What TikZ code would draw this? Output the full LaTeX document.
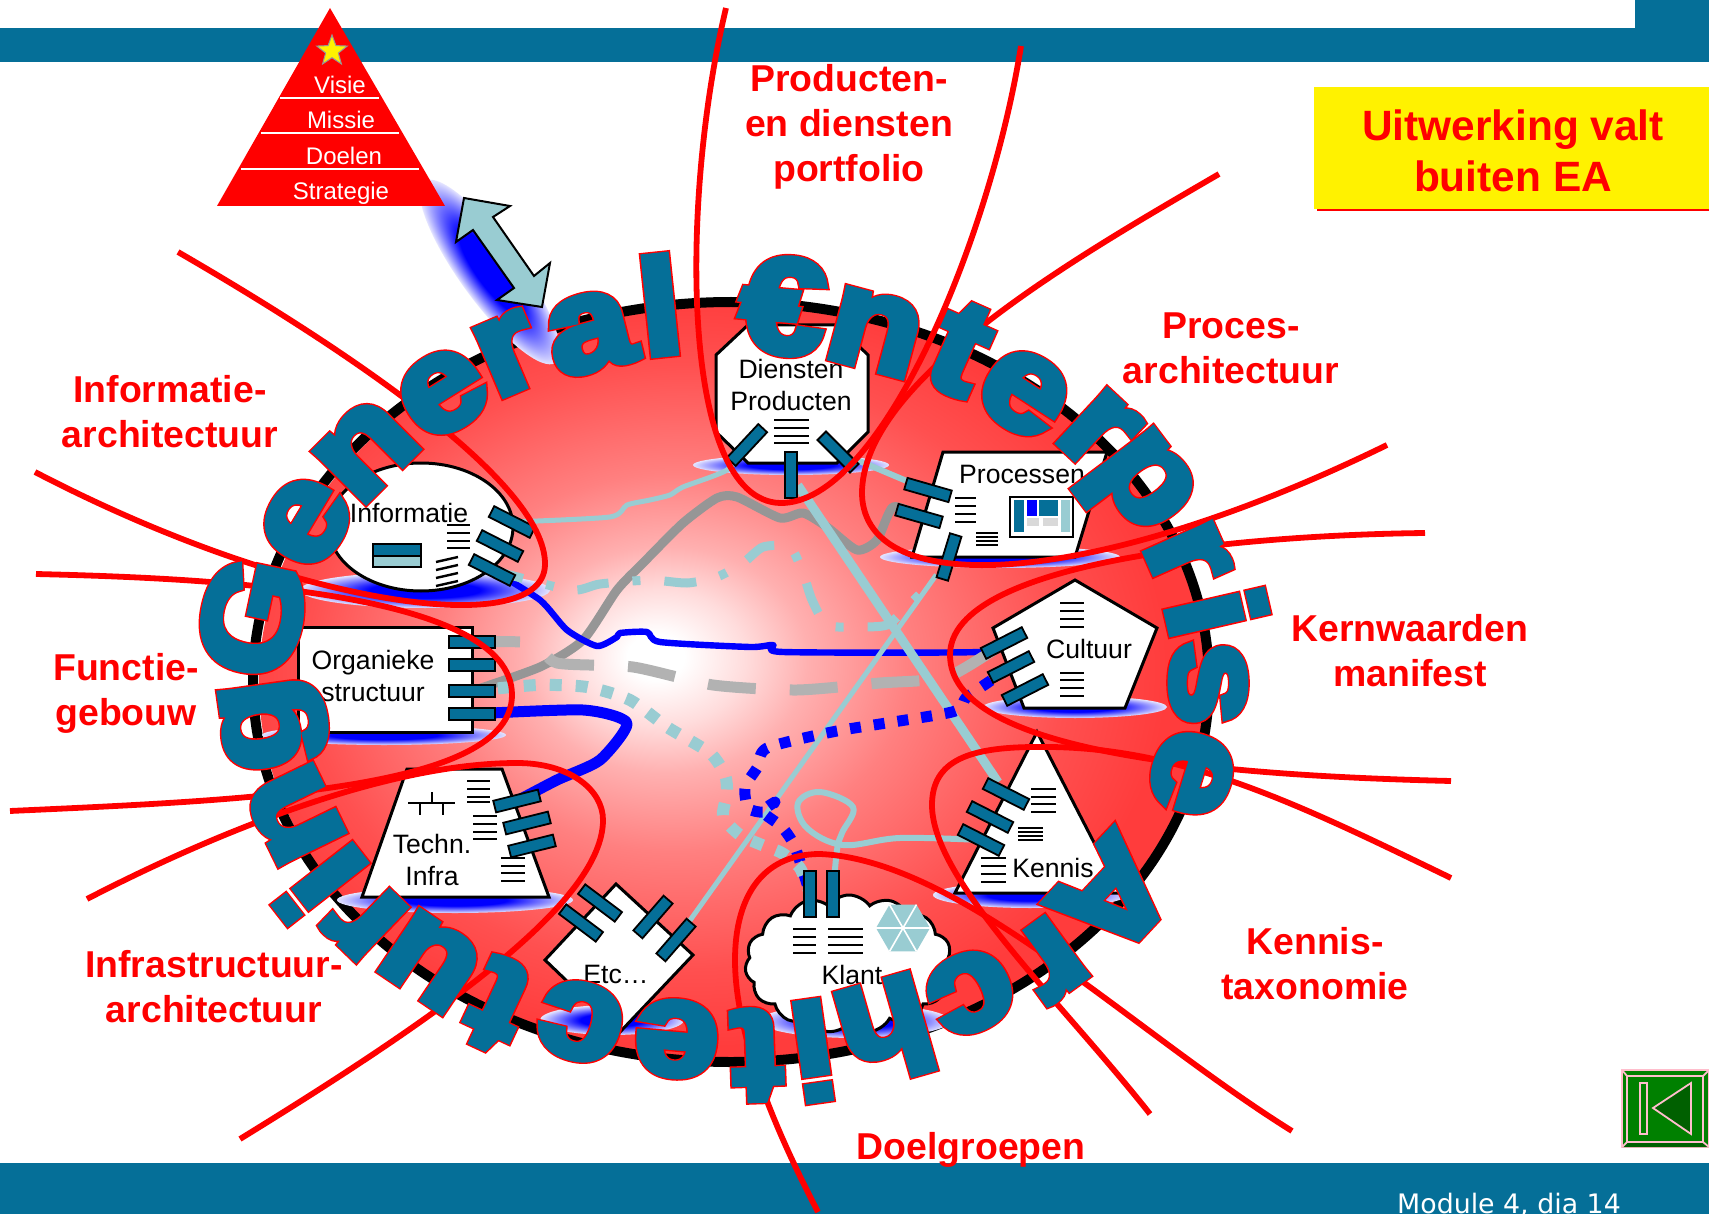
\documentclass[tikz,border=0pt]{standalone}
\usepackage{fontspec}
\setmainfont{Liberation Sans}
\newfontfamily\dejavu{DejaVu Sans}
\usetikzlibrary{shapes.geometric,shapes.symbols}
\definecolor{bandblue}{RGB}{5,111,152}
\definecolor{lightteal}{RGB}{153,204,210}
\definecolor{linegrey}{RGB}{150,150,150}
\definecolor{dashgrey}{RGB}{178,178,178}
\definecolor{btngreen}{RGB}{0,128,0}
\definecolor{btndark}{RGB}{0,96,0}
\definecolor{btnline}{RGB}{255,190,205}
\definecolor{rr1}{RGB}{255,220,220}
\definecolor{rr2}{RGB}{255,176,176}
\definecolor{rr3}{RGB}{255,128,128}
\definecolor{rr4}{RGB}{255,80,80}
\definecolor{rr5}{RGB}{255,60,60}
\definecolor{bb1}{RGB}{228,228,255}
\pgfdeclareradialshading{redglow}{\pgfpoint{-4.2bp}{1.8bp}}{color(0bp)=(white); color(1.5bp)=(white); color(4.5bp)=(rr1); color(7.5bp)=(rr2); color(12.5bp)=(rr3); color(20bp)=(rr4); color(25bp)=(rr5); color(50bp)=(rr5)}
\pgfdeclareradialshading{bluedisc}{\pgfpoint{0bp}{0bp}}{color(0bp)=(blue); color(11bp)=(blue); color(25bp)=(bb1); color(50bp)=(bb1)}
\pgfdeclarelayer{glows}
\pgfdeclarelayer{wires}
\pgfsetlayers{glows,wires,main}
% fat letters, red rim
\newcommand{\wordart}[1]{\scalebox{1.12}[1]{\rlap{\special{pdf:code 2 Tr 4.8 w 1 0 0 RG}#1}\special{pdf:code 2 Tr 3.4 w 0.02 0.435 0.596 RG}#1\special{pdf:code 0 Tr 1 w}}}

\begin{document}
\begin{tikzpicture}[
    x=0.5pt, y=-0.5pt,
    block/.style={draw=black, fill=white, line width=1.5pt},
    port/.style={rectangle, draw=black, fill=bandblue, line width=0.9pt, inner sep=0pt, minimum width=23pt, minimum height=6pt},
    bodytext/.style={font=\fontsize{13.3}{16.2}\selectfont, align=center, inner sep=0pt},
    pyrtext/.style={font=\fontsize{12}{14}\selectfont, text=white, inner sep=0pt},
    redtext/.style={font=\fontsize{18.7}{22.5}\selectfont\bfseries, text=red, align=center, inner sep=0pt},
    letter/.style={font=\fontsize{67.5}{70}\selectfont\bfseries, text=bandblue, inner sep=0pt},
    textline/.style={draw=black, line width=1.2pt},
    petal/.style={draw=red, line width=2.9pt},
    wire/.style={line width=#1, line join=round},
    wire/.default=2.5pt,
    btn/.style={draw=btnline, line width=0.9pt}
]

\useasboundingbox (0,0) rectangle (1709,1214);

% bands
\fill[bandblue] (0,28) rectangle (1709,62);
\fill[bandblue] (1635,0) rectangle (1709,28);
\fill[bandblue] (0,1163) rectangle (1709,1214);
\node[font=\dejavu\fontsize{13.4}{16}\selectfont, text=white, inner sep=0pt] (modulenr) at (1509,1205) {Module 4, dia 14};

% yellow box
\fill[yellow] (1314,87) rectangle (1709,209);
\draw[red, line width=1.2pt] (1317,210) -- (1709,210);
\node[font=\fontsize{21.2}{25.6}\selectfont\bfseries, text=red, align=center, inner sep=0pt] (uitwerking) at (1513,151) {Uitwerking valt\\buiten EA};

% disc and shadows
\begin{pgfonlayer}{glows}
\shade[shading=redglow] (733,683) ellipse [x radius=474, y radius=378];
\draw[black, line width=5pt] (731,682) ellipse [x radius=478, y radius=380];
\foreach \x/\y/\rx/\ry in {425/590/125/18, 384/735/122/10, 791/465/98/10, 1000/557/120/11, 1075/707/92/11, 1030/895/97/13, 455/900/118/13, 612/1020/72/15, 855/1021/95/17}
    \shade[shading=bluedisc] (\x,\y) ellipse [x radius=\rx, y radius=\ry];
\shade[shading=bluedisc, transform canvas={rotate around={-54:(490,272)}}] (490,272) ellipse [x radius=112, y radius=30];
\end{pgfonlayer}

% pyramid
\fill[red] (330,8) -- (445,206) -- (217,206) -- cycle;
\draw[white, line width=0.8pt] (280,98) -- (379,98);
\draw[white, line width=0.8pt] (261,133) -- (399,133);
\draw[white, line width=0.8pt] (241,169) -- (419,169);
\node[star, star points=5, star point ratio=2.4, draw=linegrey, fill=yellow, line width=0.5pt, minimum size=16pt, inner sep=0pt] (visiestar) at (332,51) {};
\node[pyrtext] (visie) at (340,85) {Visie};
\node[pyrtext] (missie) at (341,120) {Missie};
\node[pyrtext] (doelen) at (344,156) {Doelen};
\node[pyrtext] (strategie) at (341,193) {Strategie};

% double arrow
\draw[draw=black, fill=lightteal, line width=1pt] (464,198) -- (510,206) -- (493,217) -- (534,276) -- (550,263) -- (542,307) -- (497,300) -- (514,288) -- (473,230) -- (456,242) -- cycle;

% Informatie
\node[ellipse, block, minimum width=92pt, minimum height=64pt, inner sep=0pt] (informatie) at (421,527) {};
\node[bodytext] (informatietext) at (409,513) {Informatie};
\draw[draw=black, fill=bandblue, line width=1pt] (373,544) rectangle (421,556);
\draw[draw=black, fill=lightteal, line width=1pt] (373,556) rectangle (421,567);
\foreach \y in {525,533,541,548}
    \draw[textline] (447,\y) -- (470,\y);
\foreach \y in {562,570,578,586}
    \draw[textline] (436,\y) -- (458,\y-5);

% Organieke structuur
\node[rectangle, block, minimum width=87pt, minimum height=52.5pt, inner sep=0pt] (organiek) at (385,679.5) {};
\node[bodytext] (organiektext) at (373,676) {Organieke\\structuur};

% Diensten Producten
\draw[block] (748,325) -- (837,325) -- (868,355) -- (868,432) -- (837,463) -- (748,463) -- (716,432) -- (716,355) -- cycle;
\node[bodytext] (dienstentext) at (791,385) {Diensten\\Producten};
\foreach \y in {420,428,436,443}
    \draw[textline] (774,\y) -- (809,\y);

% Processen
\draw[block] (943,452) -- (1107,452) -- (1075,557) -- (912,557) -- cycle;
\node[bodytext] (processentext) at (1022,474) {Processen};
\foreach \y in {498,506,514,522}
    \draw[textline] (955,\y) -- (976,\y);
\foreach \y in {533,537,541,545}
    \draw[textline] (976,\y) -- (998,\y);
\draw[draw=black, fill=white, line width=1pt] (1010,497) rectangle (1073,537);
\fill[bandblue] (1014,500) rectangle (1024,532);
\fill[blue] (1027,500) rectangle (1037,516);
\fill[bandblue] (1039,500) rectangle (1058,516);
\fill[lightteal] (1061,500) rectangle (1070,532);
\fill[black!15] (1027,518) rectangle (1039,526);
\fill[black!15] (1043,518) rectangle (1058,526);

% Cultuur
\draw[block] (1075,580) -- (1157,628) -- (1125,708) -- (1024,708) -- (993,628) -- cycle;
\node[bodytext] (cultuurtext) at (1089,649) {Cultuur};
\foreach \y in {603,611,619,627,673,680,688,696}
    \draw[textline] (1060,\y) -- (1084,\y);

% Kennis
\draw[block] (1037,732) -- (1120,893) -- (955,893) -- cycle;
\node[bodytext] (kennistext) at (1053,868) {Kennis};
\foreach \y in {789,797,804,812}
    \draw[textline] (1031,\y) -- (1056,\y);
\foreach \y in {828,832,836,840}
    \draw[textline] (1018,\y) -- (1043,\y);
\foreach \y in {858,866,874,882}
    \draw[textline] (981,\y) -- (1006,\y);

% Techn. Infra
\draw[block] (407,769) -- (502,769) -- (549,897) -- (362,897) -- cycle;
\node[bodytext] (techntext) at (432,860) {Techn.\\Infra};
\foreach \y in {781,789,797,802}
    \draw[textline] (467,\y) -- (490,\y);
\foreach \y in {816,824,832,839}
    \draw[textline] (473,\y) -- (497,\y);
\foreach \y in {858,866,873,881}
    \draw[textline] (501,\y) -- (525,\y);
\draw[textline] (408,803) -- (455,803);
\draw[textline] (420,803) -- (420,815);
\draw[textline] (443,803) -- (443,815);
\draw[textline] (432,792) -- (432,803);

% Etc
\draw[block] (616,884) -- (693,955) -- (620,1032) -- (545,960) -- cycle;
\node[bodytext] (etctext) at (616,974) {Etc…};

% Klant
\node[cloud, block, cloud puffs=15, cloud puff arc=110, aspect=1.5, minimum width=104pt, minimum height=69pt, inner sep=0pt] (klant) at (849,964) {};
\node[bodytext] (klanttext) at (852,975) {Klant};
\foreach \y in {929,937,945,953} {
    \draw[textline] (793,\y) -- (816,\y);
    \draw[textline] (828,\y) -- (863,\y);
}
\fill[lightteal] (903,928) +(0:27) -- +(60:27) -- +(120:27) -- +(180:27) -- +(240:27) -- +(300:27) -- cycle;
\foreach \ang in {0,60,120}
    \draw[white, line width=0.8pt] (903,928) +(\ang:27) -- +(\ang+180:27);

% ports
\foreach \i/\x/\y in {1/512/522, 2/500/546, 3/492/570}
    \node[port, rotate=-27] (Info-\i) at (\x,\y) {};
\foreach \i/\y in {1/642, 2/665, 3/691, 4/714}
    \node[port] (Org-\i) at (472,\y) {};
\node[port, rotate=47] (Dienst-1) at (747,445) {};
\node[port, rotate=90] (Dienst-2) at (791,475) {};
\node[port, rotate=-45] (Dienst-3) at (838,452) {};
\node[port, rotate=-16] (Proc-1) at (928,490) {};
\node[port, rotate=-16] (Proc-2) at (919,516) {};
\node[port, rotate=73] (Proc-3) at (949,557) {};
\foreach \i/\x/\y in {1/1004/643, 2/1011/667, 3/1025/690}
    \node[port, rotate=27] (Cult-\i) at (\x,\y) {};
\foreach \i/\x/\y in {1/517/801, 2/527/823, 3/532/846}
    \node[port, rotate=14] (Tech-\i) at (\x,\y) {};
\node[port, rotate=-37] (Etc-1) at (600,903) {};
\node[port, rotate=-37] (Etc-2) at (581,923) {};
\node[port, rotate=49] (Etc-3) at (653,917) {};
\node[port, rotate=49] (Etc-4) at (676,940) {};
\foreach \i/\x/\y in {1/1006/794, 2/990/817, 3/981/840}
    \node[port, rotate=-27] (Ken-\i) at (\x,\y) {};
\node[port, rotate=90] (Klant-1) at (810,894) {};
\node[port, rotate=90] (Klant-2) at (833,894) {};

% Connections
\begin{pgfonlayer}{wires}
\draw[wire, lightteal] plot[smooth, tension=0.4] coordinates {(Info-1) (610,517) (627,505) (650,500) (670,495) (683,487) (727,470) (Dienst-1)};
\draw[wire=4.5pt, linegrey] plot[smooth, tension=0.4] coordinates {(Org-3) (540,667) (583,640) (617,590) (643,563) (683,523) (717,498) (737,497) (780,518) (803,513) (827,527) (857,550) (877,540) (893,507) (Proc-2)};
\draw[wire=3.2pt, blue] plot[smooth, tension=0.4] coordinates {(Info-3) (540,600) (567,630) (597,646) (617,637) (620,633) (647,632) (660,642) (750,647) (773,645) (783,652) (980,652) (Cult-1)};
\draw[wire=5.5pt, blue] plot[smooth, tension=0.4] coordinates {(Org-4) (583,710) (627,723) (600,760) (557,780) (Tech-1)};
\draw[wire=3pt, lightteal] (Dienst-3) -- (Proc-1);
\draw[wire=4.5pt, lightteal] (Dienst-2) -- (Ken-1);
\draw[wire=2.5pt, lightteal] (Proc-3) -- (Etc-4);
\draw[wire=3pt, lightteal] plot[smooth, tension=0.6] coordinates {(Ken-3) (900,838) (843,845) (807,828) (798,803) (820,792) (853,807) (842,833) (837,850) (Klant-2)};
\draw[wire=5.5pt, blue, dash pattern=on 5.5pt off 6.5pt] plot[smooth, tension=0.4] coordinates {(Cult-2) (967,697) (952,712) (837,731) (767,748) (757,768) (745,787) (748,808) (763,812) (775,802) (763,812) (782,827) (795,847) (Klant-1)};
\draw[wire=5.5pt, dashgrey, dash pattern=on 24pt off 17pt] plot[smooth, tension=0.4] coordinates {(Org-1) (533,643) (557,663) (633,667) (713,685) (797,690) (880,683) (947,677) (Cult-1)};
\draw[wire=4.5pt, lightteal, dash pattern=on 16pt off 12pt on 4pt off 12pt] plot[smooth, tension=0.4] coordinates {(Info-3) (570,590) (600,584) (650,580) (687,583) (717,577) (743,563) (763,547) (790,547) (803,573) (812,600) (827,625) (857,627) (887,625) (907,607) (927,587)};
\draw[wire=6pt, lightteal, dash pattern=on 6pt off 7pt] plot[smooth, tension=0.4] coordinates {(Org-3) (537,685) (587,687) (630,700) (667,727) (710,753) (725,775) (727,793) (723,817) (740,835) (762,845) (782,853) (800,868) (Klant-1)};
\end{pgfonlayer}

% petals
\draw[petal] (726,8) .. controls (680,200) and (680,500) .. (780,503) .. controls (880,505) and (990,240) .. (1021,46);
\draw[petal] (1219,174) .. controls (1080,255) and (860,380) .. (862,495) .. controls (866,600) and (1090,590) .. (1387,445);
\draw[petal] (1425,533) .. controls (1250,535) and (950,560) .. (950,655) .. controls (950,750) and (1200,775) .. (1451,781);
\draw[petal] (1451,878) .. controls (1300,805) and (1180,745) .. (1037,747) .. controls (970,747) and (932,760) .. (932,805) .. controls (932,880) and (1060,1000) .. (1150,1114);
\draw[petal] (1292,1131) .. controls (1130,1030) and (960,860) .. (820,854) .. controls (760,854) and (735,900) .. (735,960) .. controls (735,1030) and (770,1120) .. (818,1212);
\draw[petal] (178,252) .. controls (330,340) and (547,480) .. (545,565) .. controls (543,640) and (300,610) .. (35,472);
\draw[petal] (36,574) .. controls (200,578) and (512,590) .. (512,695) .. controls (512,790) and (250,800) .. (10,811);
\draw[petal] (87,899) .. controls (240,820) and (400,763) .. (517,763) .. controls (570,763) and (603,790) .. (603,820) .. controls (603,900) and (450,1010) .. (240,1139);

% petal labels
\node[redtext] (producten) at (849,127) {Producten-\\en diensten\\portfolio};
\node[redtext] (proces) at (1231,348) {Proces-\\architectuur};
\node[redtext] (infoarch) at (170,412) {Informatie-\\architectuur};
\node[redtext] (functie) at (126,693) {Functie-\\gebouw};
\node[redtext] (kernwaarden) at (1410,651) {Kernwaarden\\manifest};
\node[redtext] (infra) at (214,987) {Infrastructuur-\\architectuur};
\node[redtext] (taxonomie) at (1315,964) {Kennis-\\taxonomie};
\node[redtext] (doelgroepen) at (971,1150) {Doelgroepen};

% title round the disc
\foreach \ch/\x/\y/\ang [count=\n] in {G/252/617/78, e/306/522/59, n/366/450/45, e/443/393/32, r/508/354/23, a/590/333/14, l/660/305/6, €/783/306/-5, n/875/332/-15, t/960/349/-24, e/1024/393/-33, r/1098/430/-43, p/1136/488/-53, r/1187/556/-66, i/1217/612/-77, s/1208/683/-90, e/1192/773/-107, A/1113/897/-133, r/1050/959/-144, c/971/992/-154, h/886/1031/-164, i/813/1051/-172, t/757/1055/-178, e/677/1039/175, c/581/1022/164, t/498/1005/155, u/431/961/146, r/366/920/136, i/320/884/128, n/295/815/116, g/274/723/98}
    \node[letter, rotate=\ang] (L-\n) at (\x,\y) {\wordart{\ch}};

% back button
\draw[btn, fill=btngreen] (1622,1070) rectangle (1709,1147);
\fill[btndark] (1622,1147) -- (1627,1142) -- (1703,1142) -- (1709,1147) -- cycle;
\draw[btn] (1627,1076) rectangle (1703,1142);
\draw[btn] (1622,1070) -- (1627,1076);
\draw[btn] (1709,1070) -- (1703,1076);
\draw[btn] (1622,1147) -- (1627,1142);
\draw[btn] (1709,1147) -- (1703,1142);
\draw[btn] (1640,1083) rectangle (1647,1134);
\draw[btn, fill=btndark] (1691,1083) -- (1691,1134) -- (1653,1108) -- cycle;

\end{tikzpicture}
\end{document}
